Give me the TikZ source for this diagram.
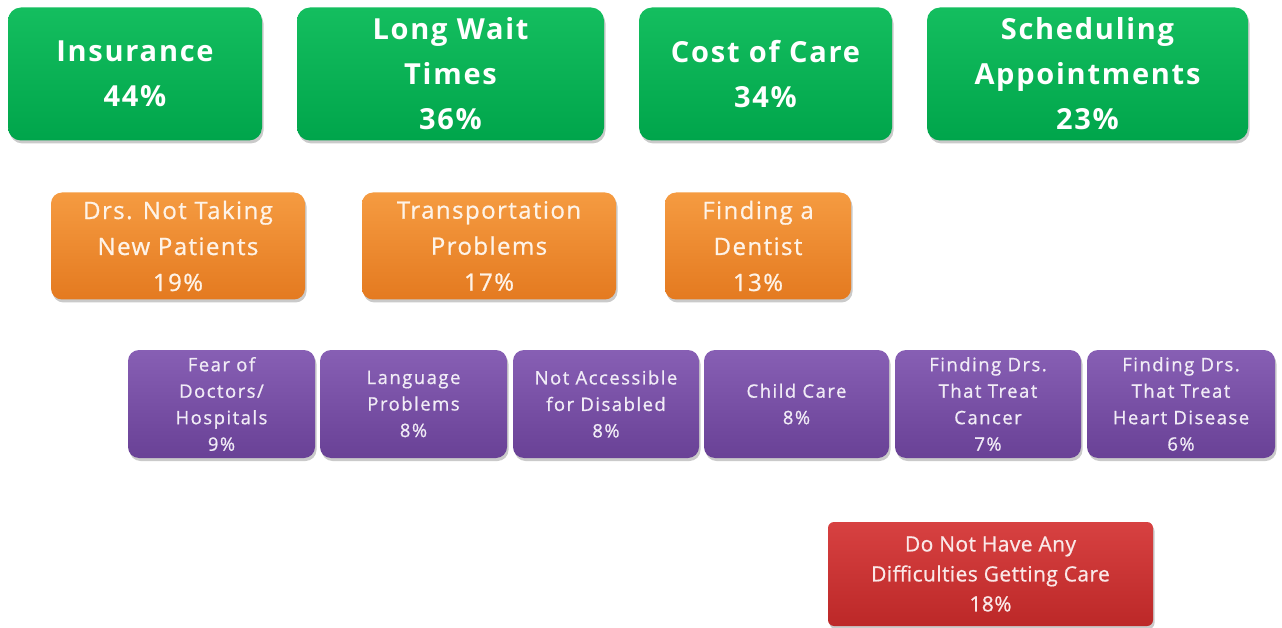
\documentclass[tikz,border=0pt]{standalone}
\usepackage{fontspec}
\setmainfont{Open Sans}
\newfontfamily\gfont[LetterSpace=6]{Open Sans}
\newfontfamily\ofont[LetterSpace=6,FakeBold=0.8]{Open Sans}
\newfontfamily\pfont[LetterSpace=8,FakeBold=0.8]{Open Sans}
\newfontfamily\rfont[LetterSpace=2,FakeBold=0.8]{Open Sans}
\usetikzlibrary{shadows}
\definecolor{gT}{RGB}{20,190,95}
\definecolor{gB}{RGB}{0,165,75}
\definecolor{oT}{RGB}{245,155,65}
\definecolor{oB}{RGB}{228,122,32}
\definecolor{pT}{RGB}{135,95,180}
\definecolor{pB}{RGB}{105,65,150}
\definecolor{rT}{RGB}{215,65,65}
\definecolor{rB}{RGB}{188,40,40}
\tikzset{
  box/.style={rectangle, rounded corners=13pt, inner sep=0pt, align=center, text=white,
    drop shadow={shadow xshift=1.5pt, shadow yshift=-3pt, opacity=0.35, fill=black!60}},
  gbox/.style={box, top color=gT, bottom color=gB, minimum height=133pt,
    font=\gfont\bfseries\fontsize{29}{45}\selectfont},
  obox/.style={box, top color=oT, bottom color=oB, minimum height=107pt, rounded corners=11pt,
    text=white!88!oT, font=\ofont\fontsize{24}{36}\selectfont},
  pbox/.style={box, top color=pT, bottom color=pB, minimum height=108pt, rounded corners=11pt,
    text=white!88!pT, font=\pfont\fontsize{18.5}{26.5}\selectfont},
  rbox/.style={box, top color=rT, bottom color=rB, minimum height=104pt, rounded corners=6pt,
    text=white!88!rT, font=\rfont\fontsize{21}{30}\selectfont},
}
\begin{document}
\begin{tikzpicture}[x=1pt,y=-1pt]
\useasboundingbox (0,0) rectangle (1282,628);
% green
\node[gbox, minimum width=254pt] (ins) at (135,74) {Insurance\\44\%};
\node[gbox, minimum width=307pt] (wait) at (450.5,74) {Long Wait\\Times\\36\%};
\node[gbox, minimum width=253pt] (cost) at (765.5,74) {Cost of Care\\34\%};
\node[gbox, minimum width=321pt] (sched) at (1087.5,74) {Scheduling\\Appointments\\23\%};
% orange
\node[obox, minimum width=254pt] (drs) at (178,246) {Drs. Not Taking\\New Patients\\19\%};
\node[obox, minimum width=254pt] (trans) at (489,246) {Transportation\\Problems\\17\%};
\node[obox, minimum width=186pt] (dent) at (758,246) {Finding a\\Dentist\\13\%};
% purple
\node[pbox, minimum width=187pt] (fear) at (221.5,404) {Fear of\\Doctors/\\Hospitals\\9\%};
\node[pbox, minimum width=187pt] (lang) at (413.5,404) {Language\\Problems\\8\%};
\node[pbox, minimum width=186pt] (acc) at (606,404) {Not Accessible\\for Disabled\\8\%};
\node[pbox, minimum width=185pt] (child) at (796.5,404) {Child Care\\8\%};
\node[pbox, minimum width=186pt] (cancer) at (988,404) {Finding Drs.\\That Treat\\Cancer\\7\%};
\node[pbox, minimum width=188pt] (heart) at (1181,404) {Finding Drs.\\That Treat\\Heart Disease\\6\%};
% red
\node[rbox, minimum width=325pt] (none) at (990.5,574) {Do Not Have Any\\Difficulties Getting Care\\18\%};
\end{tikzpicture}
\end{document}
